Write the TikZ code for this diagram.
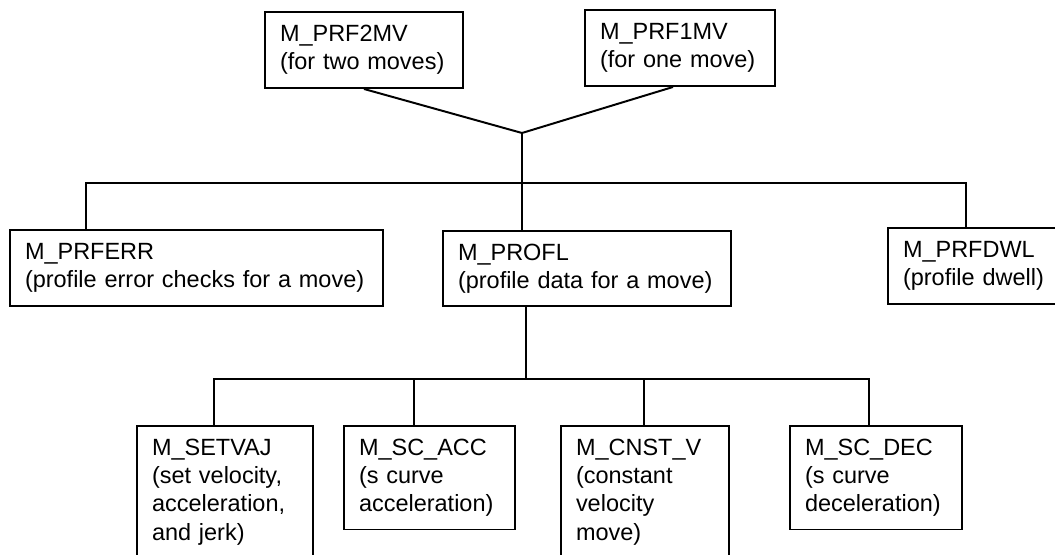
\documentclass[tikz,border=0pt]{standalone}
\usepackage{fontspec}
\setmainfont{Liberation Sans}

\begin{document}
\begin{tikzpicture}
    \tikzstyle{box} = [draw, rectangle, line width=2.8pt, inner xsep=0.75cm, inner ysep=0pt, align=left, font=\fontsize{33.4}{40.3}\selectfont]
    \tikzstyle{link} = [line width=2.8pt]
    \useasboundingbox (0,0) rectangle (52.75,27.7);

    % callers
    \node[box, text width=8.4cm, minimum height=3.8cm] (prftwo) at (18.2, 25.2) {M\_PRF2MV\\(for two moves)};
    \node[box, text width=8.0cm, minimum height=3.8cm] (prfone) at (34.0, 25.3) {M\_PRF1MV\\(for one move)};

    % second level
    \node[box, text width=17.15cm, minimum height=3.8cm] (prferr) at (9.825, 14.3) {M\_PRFERR\\(profile error checks for a move)};
    \node[box, text width=12.9cm, minimum height=3.75cm] (profl) at (29.35, 14.275) {M\_PROFL\\(profile data for a move)};
    \node[box, text width=7.3cm, minimum height=3.8cm] (prfdwl) at (48.8, 14.4) {M\_PRFDWL\\(profile dwell)};

    % third level
    \node[box, text width=7.3cm, minimum height=6.6cm] (setvaj) at (11.25, 3.1) {M\_SETVAJ\\(set velocity,\\acceleration,\\and jerk)};
    \node[box, text width=7.05cm, minimum height=5.175cm] (scacc) at (21.475, 3.8125) {M\_SC\_ACC\\(s curve\\acceleration)};
    \node[box, text width=6.9cm, minimum height=6.6cm] (cnstv) at (32.25, 3.1) {M\_CNST\_V\\(constant\\velocity\\move)};
    \node[box, text width=7.1cm, minimum height=5.175cm] (scdec) at (43.8, 3.8125) {M\_SC\_DEC\\(s curve\\deceleration)};

    \coordinate (join) at (26.1, 21.05);
    \coordinate (barl) at (4.3, 18.55);
    \coordinate (barr) at (48.3, 18.55);
    \coordinate (subl) at (10.7, 8.75);
    \coordinate (subacc) at (20.7, 8.75);
    \coordinate (subm) at (26.3, 8.75);
    \coordinate (subcnst) at (32.2, 8.75);
    \coordinate (subr) at (43.45, 8.75);

    \draw[link] (prftwo.south) -- (join);
    \draw[link] ([xshift=-0.35cm]prfone.south) -- (join);
    \draw[link] (join) -- (join |- profl.north);
    \draw[link] (barl |- prferr.north) -- (barl) -- (barr) -- (barr |- prfdwl.north);

    \draw[link] (subm |- profl.south) -- (subm);
    \draw[link] (subl |- setvaj.north) -- (subl) -- (subr) -- (subr |- scdec.north);
    \draw[link] (subacc) -- (subacc |- scacc.north);
    \draw[link] (subcnst) -- (subcnst |- cnstv.north);
\end{tikzpicture}
\end{document}
